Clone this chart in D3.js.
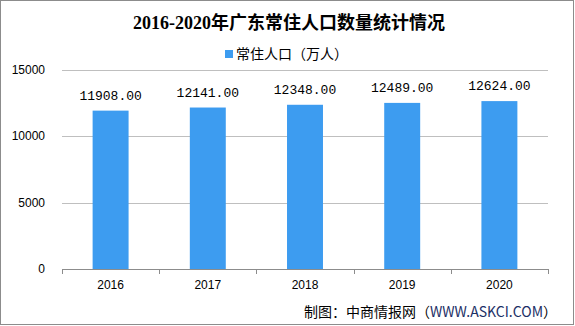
<!DOCTYPE html>
<html><head><meta charset="utf-8">
<script src="https://cdn.jsdelivr.net/npm/d3@7/dist/d3.min.js"></script>
<style>body{margin:0;background:#fff}svg{display:block}</style>
</head><body>
<script>
const categories = ["2016","2017","2018","2019","2020"];
const values = [11908, 12141, 12348, 12489, 12624];
const yTicks = [0, 5000, 10000, 15000];
const title = "2016-2020年广东常住人口数量统计情况";
const legendLabel = "常住人口（万人）";
const sourceCn = "制图：中商情报网（";
const sourceUrl = "WWW.ASKCI.COM";
const sourceEnd = "）";

const W = 575, H = 326;
const svg = d3.select("body").append("svg").attr("width", W).attr("height", H);
svg.append("rect").attr("x",0.5).attr("y",0.5).attr("width",W-2).attr("height",H-2)
  .attr("fill","#fff").attr("stroke","#8c8c8c");

const x = d3.scaleBand().domain(categories).range([62, 548]).paddingInner(0.63).paddingOuter(0.315);
const y = d3.scaleLinear().domain([0, 15000]).range([269, 69.5]);

// gridlines
svg.append("g").selectAll("line").data(yTicks.filter(d=>d>0)).join("line")
  .attr("x1",62).attr("x2",548).attr("y1",d=>Math.round(y(d))+0.5).attr("y2",d=>Math.round(y(d))+0.5)
  .attr("stroke","#bfbfbf");

// y labels
svg.append("g").selectAll("text").data(yTicks).join("text")
  .attr("x",45).attr("y",d=>y(d)+4).attr("text-anchor","end")
  .attr("font-family","Liberation Sans, sans-serif").attr("font-size",12).attr("fill","#000")
  .text(d=>d);

// bars
svg.append("g").selectAll("rect").data(values).join("rect")
  .attr("x",(d,i)=>x(categories[i])).attr("width",x.bandwidth())
  .attr("y",d=>y(d)).attr("height",d=>y(0)-y(d)).attr("fill","#3d9cf0");

// value labels
svg.append("g").selectAll("text").data(values).join("text")
  .attr("x",(d,i)=>x(categories[i])+x.bandwidth()/2).attr("y",d=>y(d)-11)
  .attr("text-anchor","middle").attr("font-family","Liberation Mono, monospace").attr("font-size",13).attr("fill","#000")
  .text(d=>d.toFixed(2));

// x axis
const xa = svg.append("g");
xa.append("line").attr("x1",62).attr("x2",548).attr("y1",269.5).attr("y2",269.5).attr("stroke","#8c8c8c");
const edges = categories.map(c=>x(c)-x.step()*x.paddingInner()/2).concat([548]);
xa.selectAll("line.t").data(edges).join("line").attr("class","t")
  .attr("x1",d=>Math.round(d)+0.5).attr("x2",d=>Math.round(d)+0.5).attr("y1",269).attr("y2",274).attr("stroke","#8c8c8c");
xa.selectAll("text").data(categories).join("text")
  .attr("x",d=>x(d)+x.bandwidth()/2).attr("y",289).attr("text-anchor","middle")
  .attr("font-family","Liberation Sans, sans-serif").attr("font-size",12).attr("fill","#000").text(d=>d);

// title
svg.append("text").attr("x",289).attr("y",29).attr("text-anchor","middle")
  .attr("font-family","Liberation Serif, Noto Sans CJK SC, serif").attr("font-weight","bold").attr("font-size",18)
  .attr("fill","#000").text(title);

// legend
svg.append("rect").attr("x",225).attr("y",50).attr("width",8).attr("height",8).attr("fill","#3d9cf0");
svg.append("text").attr("x",236).attr("y",59).attr("font-family","Noto Sans CJK SC, sans-serif")
  .attr("font-size",14).attr("fill","#000").text(legendLabel);

// source
const st = svg.append("text").attr("x",557).attr("y",317).attr("text-anchor","end")
  .attr("font-family","Noto Sans CJK SC, sans-serif").attr("font-size",14).attr("fill","#000");
st.append("tspan").text(sourceCn);
st.append("tspan").attr("fill","#1c2f66").text(sourceUrl);
st.append("tspan").text(sourceEnd);
</script>
</body></html>
